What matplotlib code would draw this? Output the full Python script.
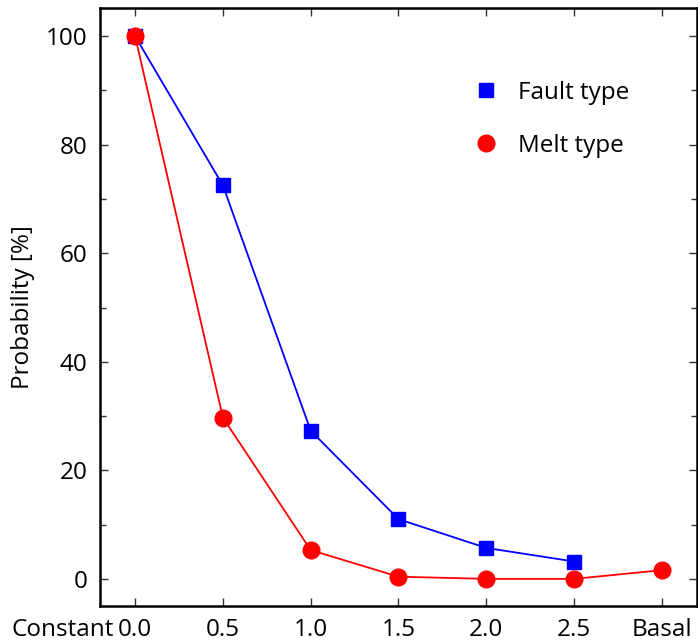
import matplotlib
matplotlib.use("Agg")
import matplotlib.pyplot as plt
import matplotlib.transforms as mtransforms
from matplotlib.ticker import MultipleLocator

plt.rcParams["font.family"] = ["Open Sans", "DejaVu Sans"]

x_labels = ["0.0", "0.5", "1.0", "1.5", "2.0", "2.5", "Basal"]
fault_prob = [100.0, 72.5, 27.3, 11.0, 5.7, 3.2]
melt_prob = [100.0, 29.7, 5.3, 0.4, 0.0, 0.0, 1.6]

FS = 17.5

fig = plt.figure(figsize=(6.98, 6.43), dpi=100)
ax = fig.add_axes([100 / 698, 37 / 643, 597 / 698, 598 / 643])

xf = list(range(len(fault_prob)))
xm = list(range(len(melt_prob)))
ax.plot(xf, fault_prob, color="blue", lw=1.3, marker="s", ms=10,
        label="Fault type", zorder=3)
ax.plot(xm, melt_prob, color="red", lw=1.3, marker="o", ms=12,
        label="Melt type", zorder=4)

ax.set_xlim(-0.4, 6.4)
ax.set_ylim(-5, 105.2)
ax.set_xticks(range(len(x_labels)))
ax.set_xticklabels(x_labels)
ax.set_yticks([0, 20, 40, 60, 80, 100])
ax.yaxis.set_minor_locator(MultipleLocator(10))
ax.tick_params(which="both", direction="in", top=True, right=True,
               labelsize=FS, width=1.0, color="#333333")
ax.tick_params(which="major", length=6, pad=9)
ax.tick_params(which="minor", length=4)
for s in ax.spines.values():
    s.set_linewidth(1.8)

# "Constant" sits to the left of the first tick label, same baseline
trans = mtransforms.blended_transform_factory(ax.transData, ax.transAxes)
trans = trans + mtransforms.ScaledTranslation(0, -9 / 72, fig.dpi_scale_trans)
ax.text(-0.24, 0, "Constant", transform=trans, ha="right", va="top",
        fontsize=FS)

ax.set_ylabel("Probability [%]", fontsize=FS, labelpad=8)

ax.legend(loc="upper left", bbox_to_anchor=(0.59, 0.915), frameon=False,
          fontsize=FS, numpoints=1, handlelength=1.0, labelspacing=1.2,
          handletextpad=0.8)
leg = ax.get_legend()
for h in leg.legend_handles:
    h.set_linestyle("none")

fig.savefig("out.png", dpi=100)
